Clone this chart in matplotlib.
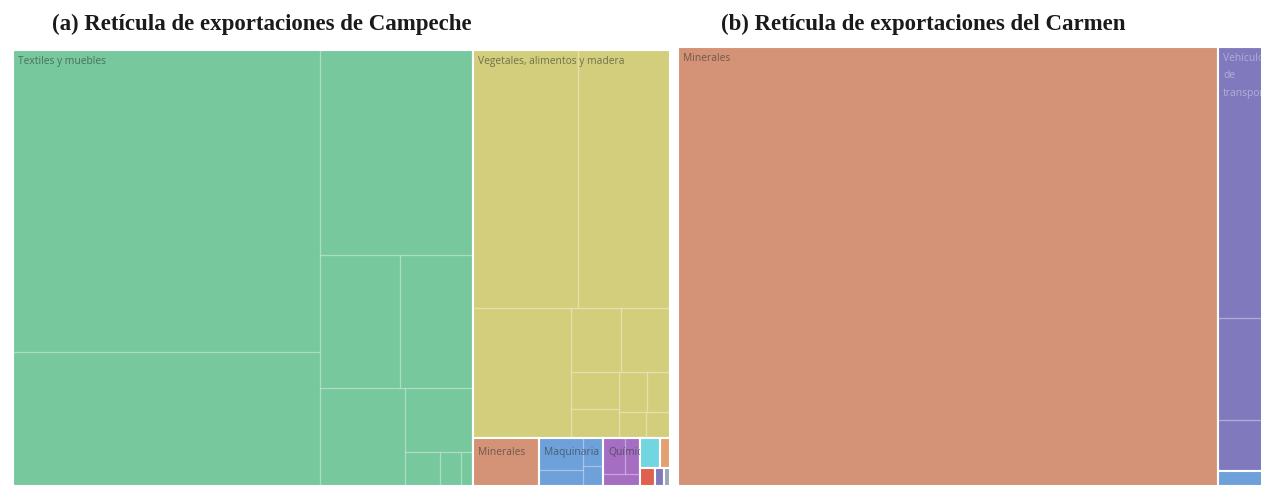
import matplotlib.pyplot as plt
from matplotlib.patches import Rectangle

PHI = (1 + 5 ** 0.5) / 2

# (a) Campeche: top level groups and the products inside each one
campeche_groups = ['Textiles y muebles', 'Vegetales, alimentos y madera', 'Minerales',
                   'Maquinaria', 'Químicos', 'Electrónicos', 'Piedra y vidrio',
                   'Metales', 'Vehículos de transporte', 'Otros']
campeche_colors = ['#78c89e', '#d3ce7c', '#d49276', '#6ea0da', '#a56ec3',
                   '#72d6e0', '#e3a070', '#e0604f', '#8079be', '#9aa7b8']
campeche_items = [
    [92714, 41138, 31365, 10640, 9709, 8330, 4352, 1200, 700, 412],
    [27090, 23736, 12740, 3200, 3136, 1800, 1400, 1100, 900, 700, 634],
    [3168],
    [1400, 700, 560, 412],
    [800, 520, 456],
    [600],
    [310],
    [270],
    [160],
    [100],
]

# (b) Carmen
carmen_groups = ['Minerales', 'Vehículos de transporte', 'Maquinaria', 'Electrónicos', 'Otros']
carmen_colors = ['#d49276', '#8079be', '#6ea0da', '#8cc8ec', '#9aa7b8']
carmen_items = [
    [237060],
    [27100, 10200, 5100],
    [700],
    [400],
    [250, 150],
]

labels_shown = {'Vehículos de transporte': 'Vehículos\nde\ntransporte'}


def squarify(values, x0, y0, x1, y1, ratio=PHI):
    # same rule as d3.treemapSquarify (golden ratio), values sorted descending
    rects = []
    total = float(sum(values))
    i0, n = 0, len(values)
    while i0 < n:
        dx, dy = x1 - x0, y1 - y0
        s = values[i0]
        vmin = vmax = s
        alpha = max(dy / dx, dx / dy) / (total * ratio)
        beta = s * s * alpha
        best = max(vmax / beta, beta / vmin)
        i1 = i0 + 1
        while i1 < n:
            v = values[i1]
            s2 = s + v
            beta = s2 * s2 * alpha
            new = max(max(vmax, v) / beta, beta / min(vmin, v))
            if new > best:
                break
            s, best = s2, new
            vmin, vmax = min(vmin, v), max(vmax, v)
            i1 += 1
        row = values[i0:i1]
        if dx < dy:
            h = dy * s / total
            xx = x0
            for v in row:
                w = dx * v / s
                rects.append((xx, y0, w, h))
                xx += w
            y0 += h
        else:
            w = dx * s / total
            yy = y0
            for v in row:
                hh = dy * v / s
                rects.append((x0, yy, w, hh))
                yy += hh
            x0 += w
        total -= s
        i0 = i1
    return rects


def draw_treemap(ax, groups, colors, items, width, height):
    totals = [sum(it) for it in items]
    order = sorted(range(len(groups)), key=lambda i: -totals[i])
    boxes = squarify([totals[i] for i in order], 0, 0, width, height)
    for i, (x, y, w, h) in zip(order, boxes):
        box = Rectangle((x, y), w, h, facecolor=colors[i], edgecolor='white', linewidth=1.5)
        ax.add_patch(box)
        kids = sorted(items[i], reverse=True)
        if len(kids) > 1:
            for (cx, cy, cw, ch) in squarify(kids, x, y, x + w, y + h):
                ax.add_patch(Rectangle((cx, cy), cw, ch, facecolor='none',
                                       edgecolor=(1, 1, 1, 0.22), linewidth=0.9))
        if w > 30 and h > 20:
            light = colors[i] == '#8079be'
            pad_y = 6 if h > 100 else 9
            t = ax.text(x + 5, y + pad_y, labels_shown.get(groups[i], groups[i]),
                        ha='left', va='top', fontsize=7.4, family='Open Sans',
                        color='white' if light else '#2b3530',
                        alpha=0.4 if light else 0.6, linespacing=1.8,
                        clip_on=True)
            t.set_clip_path(box)
    ax.set_xlim(0, width)
    ax.set_ylim(height, 0)
    ax.axis('off')


fig = plt.figure(figsize=(12.61, 4.86), dpi=100)

ax1 = fig.add_axes([13 / 1261, 0, 657 / 1261, 436 / 486])
draw_treemap(ax1, campeche_groups, campeche_colors, campeche_items, 657, 436)

ax2 = fig.add_axes([678 / 1261, 0, 583 / 1261, 439 / 486])
draw_treemap(ax2, carmen_groups, carmen_colors, carmen_items, 640, 439)
ax2.set_xlim(0, 583)

fig.text(262 / 1261, 1 - 24 / 486, '(a) Retícula de exportaciones de Campeche',
         ha='center', va='center', fontsize=16.5, fontweight='bold',
         family='Liberation Serif', color='#1a1a1a')
fig.text(923 / 1261, 1 - 24 / 486, '(b) Retícula de exportaciones del Carmen',
         ha='center', va='center', fontsize=16.5, fontweight='bold',
         family='Liberation Serif', color='#1a1a1a')

fig.savefig('out.png', dpi=100)
